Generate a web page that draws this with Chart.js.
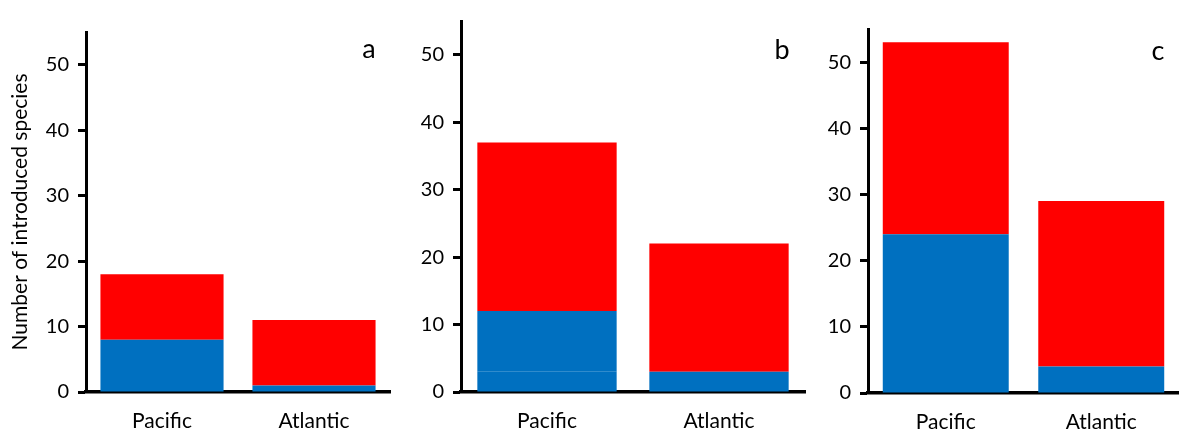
<!DOCTYPE html>
<html>
<head>
<meta charset="utf-8">
<script src="https://cdn.jsdelivr.net/npm/chart.js@4"></script>
<style>
	body { margin: 0; background: #fff; width: 1179px; height: 433px; overflow: hidden; }
	.panel { position: absolute; top: 0; height: 433px; }
</style>
</head>
<body>
<div class="panel" style="left:0;width:400px"><canvas id="chart-a"></canvas></div>
<div class="panel" style="left:400px;width:410px"><canvas id="chart-b"></canvas></div>
<div class="panel" style="left:810px;width:369px"><canvas id="chart-c"></canvas></div>
<script>
const categories = ['Pacific', 'Atlantic'];
const yTicks = [0, 10, 20, 30, 40, 50];

// panel a
const blueLowA = [2, 1];
const blueHighA = [6, 0];
const redA = [10, 10];
// panel b
const blueLowB = [3, 3];
const blueHighB = [9, 0];
const redB = [25, 19];
// panel c
const blueLowC = [24, 4];
const blueHighC = [0, 0];
const redC = [29, 25];

const FONT = 'Lato, "Open Sans", sans-serif';

const letterPlugin = (letter, dx, y) => ({
	id: 'letter' + letter,
	afterDraw: chart => {
		const ctx = chart.ctx;
		ctx.save();
		ctx.font = `27px ${FONT}`;
		ctx.fillStyle = '#000';
		ctx.textAlign = 'center';
		ctx.textBaseline = 'alphabetic';
		ctx.fillText(letter, chart.chartArea.right - dx, y);
		ctx.restore();
	}
});

const makePanel = (canvasId, low, high, red, opts) => {
	const data = {
		labels: categories,
		datasets: [
			{ data: low, backgroundColor: '#0070c0', stack: 's' },
			{ data: high, backgroundColor: '#0070c0', stack: 's' },
			{ data: red, backgroundColor: '#ff0000', stack: 's' }
		]
	};
	const config = {
		type: 'bar',
		data,
		options: {
			responsive: true,
			maintainAspectRatio: false,
			animation: false,
			barPercentage: 0.81,
			categoryPercentage: 1,
			layout: { padding: { top: opts.top, right: opts.right, left: 0, bottom: 0 } },
			plugins: {
				legend: { display: false },
				tooltip: { enabled: false }
			},
			scales: {
				x: {
					stacked: true,
					grid: { display: false, drawTicks: false },
					border: { display: true, color: '#000', width: 3.5 },
					afterFit: scale => { scale.height = opts.xHeight; },
					ticks: {
						color: '#000',
						padding: 17,
						font: { family: FONT, size: 21 }
					}
				},
				y: {
					stacked: true,
					min: 0,
					max: 55,
					afterFit: scale => { scale.width = opts.yWidth; },
					afterBuildTicks: scale => {
						scale.ticks = yTicks.map(v => ({ value: v }));
					},
					grid: {
						drawOnChartArea: false,
						drawTicks: true,
						tickLength: 8,
						tickWidth: 3,
						tickColor: '#000'
					},
					border: { display: true, color: '#000', width: 3 },
					ticks: {
						color: '#000',
						padding: 9,
						font: { family: FONT, size: 20 }
					},
					title: {
						display: !!opts.title,
						text: opts.title || '',
						color: '#000',
						padding: { top: 8, bottom: 0 },
						font: { family: FONT, size: 21 }
					}
				}
			}
		},
		plugins: [letterPlugin(opts.letter, opts.dx, opts.ly)]
	};
	return new Chart(document.getElementById(canvasId), config);
};

makePanel('chart-a', blueLowA, blueHighA, redA,
	{ top: 32, right: 10, xHeight: 41, yWidth: 86, title: 'Number of introduced species', letter: 'a', dx: 21, ly: 58 });
makePanel('chart-b', blueLowB, blueHighB, redB,
	{ top: 10, right: 5, xHeight: 41, yWidth: 61, letter: 'b', dx: 23, ly: 59 });
makePanel('chart-c', blueLowC, blueHighC, redC,
	{ top: 29, right: 0, xHeight: 40, yWidth: 58, letter: 'c', dx: 21, ly: 60 });
</script>
</body>
</html>
